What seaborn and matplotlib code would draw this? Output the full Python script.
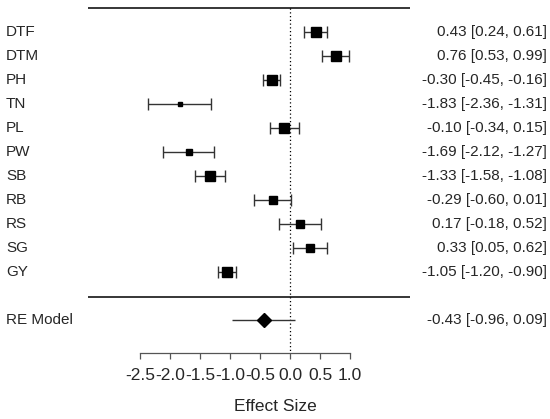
#!/usr/bin/env python
# -*- coding: utf-8 -*-
"""
Forest plot of trait effect sizes with a random-effects summary
"""

import numpy as np
import matplotlib
matplotlib.use('Agg')
import matplotlib.pyplot as plt
import seaborn as sns

# ============================================================
# data
# ============================================================
traits = ['DTF', 'DTM', 'PH', 'TN', 'PL', 'PW', 'SB', 'RB', 'RS', 'SG', 'GY']
est = [0.43, 0.76, -0.30, -1.83, -0.10, -1.69, -1.33, -0.29, 0.17, 0.33, -1.05]
ci_low = [0.24, 0.53, -0.45, -2.36, -0.34, -2.12, -1.58, -0.60, -0.18, 0.05, -1.20]
ci_high = [0.61, 0.99, -0.16, -1.31, 0.15, -1.27, -1.08, 0.01, 0.52, 0.62, -0.90]

re_label = 'RE Model'
re_est = -0.43
re_low = -0.96
re_high = 0.09

x_ticks = [-2.5, -2.0, -1.5, -1.0, -0.5, 0.0, 0.5, 1.0]

sns.set_theme(style='white')
plt.rcParams['font.family'] = ['Liberation Sans', 'DejaVu Sans']
FS = 11.0       # row labels / estimates
FS_AX = 12.5    # axis ticks and title

est_a = np.array(est)
lo_a = np.array(ci_low)
hi_a = np.array(ci_high)

# random-effects weights (DerSimonian-Laird) -> square sizes
se = (hi_a - lo_a) / (2 * 1.96)
vi = se ** 2
wi = 1 / vi
q = np.sum(wi * (est_a - np.sum(wi * est_a) / np.sum(wi)) ** 2)
c = np.sum(wi) - np.sum(wi ** 2) / np.sum(wi)
tau2 = max(0.0, (q - (len(est) - 1)) / c)
w_re = 1 / (vi + tau2)
ps = (w_re - w_re.min()) / (w_re.max() - w_re.min())
ps = ps * 1.0 + 0.5
sq_pt = 7.1 * ps * 0.72  # px -> points

fig = plt.figure(figsize=(5.5, 4.19), dpi=100)
ax = fig.add_axes([0, 0, 1, 1])
ax.set_xlim(-4.833, 4.333)
ax.set_ylim(17.125, -1 / 3)
ax.axis('off')

rows = np.arange(1, len(traits) + 1)
re_row = len(traits) + 2
axis_row = 14.36

# frame lines and zero line
ax.hlines([0, len(traits) + 1.04], -3.367, 2.0, color='black', linewidth=1.1)
ax.vlines(0, 0, axis_row, color='black', linewidth=0.9, linestyles=(0, (1, 2)))

# study rows
ax.errorbar(est_a, rows, xerr=[est_a - lo_a, hi_a - est_a], fmt='none',
            ecolor='#333333', elinewidth=1.0, capsize=4, capthick=1.0)
for xv, yv, ms in zip(est_a, rows, sq_pt):
    ax.plot(xv, yv, marker='s', markersize=ms, color='black', linestyle='none')

# summary row
ax.errorbar([re_est], [re_row], xerr=[[re_est - re_low], [re_high - re_est]],
            fmt='none', ecolor='#333333', elinewidth=1.0)
ax.plot(re_est, re_row, marker='D', markersize=7.4, color='black', linestyle='none')

# text columns
for name, yv, e, l, h in zip(traits, rows, est, ci_low, ci_high):
    ax.text(-4.733, yv, name, ha='left', va='center', fontsize=FS)
    ax.text(4.283, yv, f'{e:.2f} [{l:.2f}, {h:.2f}]', ha='right', va='center', fontsize=FS)
ax.text(-4.733, re_row, re_label, ha='left', va='center', fontsize=FS)
ax.text(4.283, re_row, f'{re_est:.2f} [{re_low:.2f}, {re_high:.2f}]',
        ha='right', va='center', fontsize=FS)

# x axis
ax_y = 1 - (8 + 24 * axis_row) / 419
ax2 = fig.add_axes([0, ax_y, 1, 0.0001])
ax2.set_xlim(-4.833, 4.333)
ax2.patch.set_alpha(0)
for side in ['top', 'left', 'right']:
    ax2.spines[side].set_visible(False)
ax2.spines['bottom'].set_bounds(x_ticks[0], x_ticks[-1])
ax2.spines['bottom'].set_color('#555555')
ax2.spines['bottom'].set_linewidth(0.9)
ax2.set_yticks([])
ax2.set_xticks(x_ticks)
ax2.set_xticklabels([f'{t:.1f}' for t in x_ticks])
ax2.tick_params(axis='x', direction='out', length=4.3, width=0.9, color='#555555',
                labelsize=FS_AX, pad=6.5, bottom=True)
ax2.set_xlabel('Effect Size', fontsize=FS_AX, labelpad=12)

plt.savefig('out.png', dpi=100)
